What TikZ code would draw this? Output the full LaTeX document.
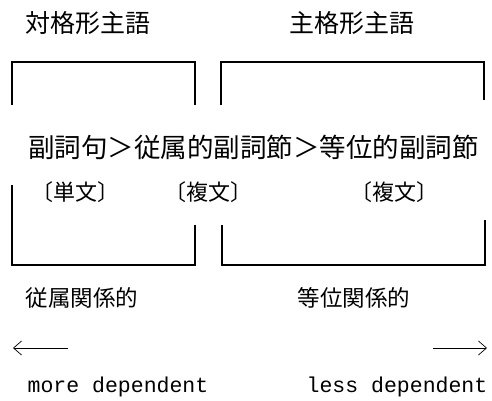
\documentclass[tikz,border=0pt]{standalone}
\usepackage{fontspec}
\newfontfamily\cjk{Noto Sans CJK JP}
\newfontfamily\cjkh[RawFeature=+halt]{Noto Sans CJK JP}
\setmonofont{Liberation Mono}
\usetikzlibrary{arrows.meta}
\tikzset{
  bracket/.style={line width=1.1pt, line join=miter},
  title/.style={font=\cjk\fontsize{25}{28}\selectfont, inner sep=0pt},
  mainline/.style={font=\cjk\fontsize{26.5}{30}\selectfont, inner sep=0pt},
  sub/.style={font=\cjkh\fontsize{22}{26}\selectfont, inner sep=0pt},
  rel/.style={font=\cjk\fontsize{22.5}{26}\selectfont, inner sep=0pt},
  eng/.style={font=\ttfamily\fontsize{21.5}{24}\selectfont, inner sep=0pt},
  dirarrow/.style={line width=0.7pt, -{Straight Barb[length=8pt,width=14pt]}}
}
\begin{document}
\begin{tikzpicture}[x=1pt,y=-1pt]
\useasboundingbox (0,0) rectangle (492,400);
% titles
\node[title] (t1) at (88,23) {対格形主語};
\node[title] (t2) at (352,23) {主格形主語};
% top brackets
\coordinate (a1) at (12,105); \coordinate (a2) at (12,62);
\coordinate (a3) at (195,62); \coordinate (a4) at (195,105);
\draw[bracket] (a1) -- (a2) -- (a3) -- (a4);
\coordinate (b1) at (221,105); \coordinate (b2) at (221,62);
\coordinate (b3) at (484,62); \coordinate (b4) at (484,100);
\draw[bracket] (b1) -- (b2) -- (b3) -- (b4);
% main line
\node[mainline] (m) at (253.5,147) {副詞句＞従属的副詞節＞等位的副詞節};
\node[sub] (s1) at (75,192) {〔単文〕};
\node[sub] (s2) at (208,192) {〔複文〕};
\node[sub] (s3) at (394,192) {〔複文〕};
% bottom brackets
\coordinate (c1) at (12,185); \coordinate (c2) at (12,265);
\coordinate (c3) at (195,265); \coordinate (c4) at (195,225);
\draw[bracket] (c1) -- (c2) -- (c3) -- (c4);
\coordinate (d1) at (222,225); \coordinate (d2) at (222,265);
\coordinate (d3) at (485,265); \coordinate (d4) at (485,220);
\draw[bracket] (d1) -- (d2) -- (d3) -- (d4);
% relation labels
\node[rel] (r1) at (82,298) {従属関係的};
\node[rel] (r2) at (354,298) {等位関係的};
% arrows
\coordinate (la1) at (68,348); \coordinate (la2) at (13,348);
\draw[dirarrow] (la1) -- (la2);
\coordinate (ra1) at (433,348); \coordinate (ra2) at (487,348);
\draw[dirarrow] (ra1) -- (ra2);
% english
\node[eng] (e1) at (118,387) {more dependent};
\node[eng] (e2) at (397,387) {less dependent};
\end{tikzpicture}
\end{document}
